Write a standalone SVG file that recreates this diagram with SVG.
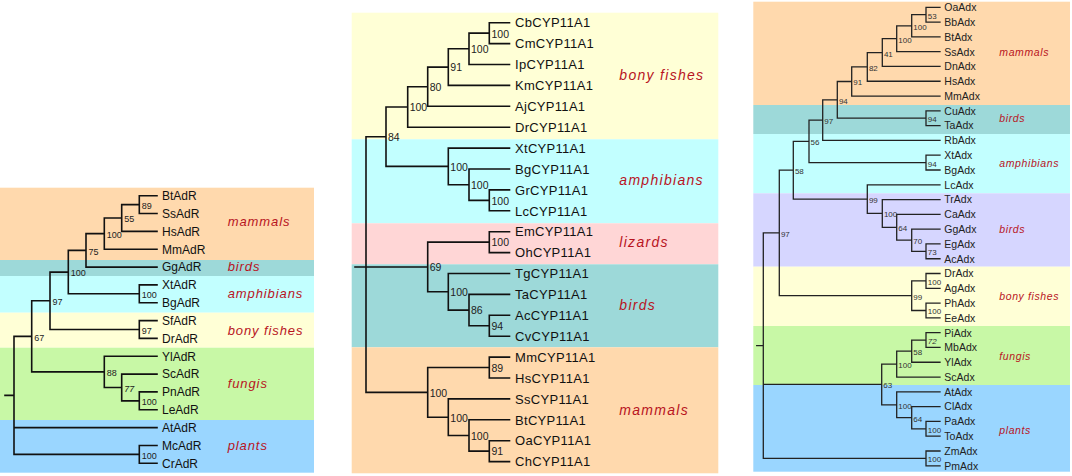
<svg xmlns="http://www.w3.org/2000/svg" width="1072" height="476" viewBox="0 0 1072 476">
<style>
.mam{fill:#FFD9AD}.brd{fill:#9DD9D9}.amp{fill:#C2FFFF}.liz{fill:#FFD6D6}.fsh{fill:#FFFFD6}.fun{fill:#C8F8A6}.pla{fill:#9AD6FF}.lav{fill:#D6D6FF}
.grp{font-family:"Liberation Sans",Arial,sans-serif;font-style:italic;fill:#B8141E}
.g1{font-size:13px;letter-spacing:0.9px}.g2{font-size:14px;letter-spacing:1.3px}.g3{font-size:10.5px;letter-spacing:0.6px}
.leaf{font-family:"Liberation Sans",Arial,sans-serif;fill:#111}
.l1{font-size:12px}.l2{font-size:13px;letter-spacing:0.3px}.l3{font-size:10.5px;fill:#222}
.bs{font-family:"Liberation Sans",Arial,sans-serif;fill:#222}
.b1{font-size:9px}.b2{font-size:10.5px}.b3{font-size:8px;fill:#333}
.ln{fill:none;stroke:#111;stroke-width:1.6;stroke-linecap:square}
.ln3{fill:none;stroke:#222;stroke-width:1.3;stroke-linecap:square}
</style>

<!-- LEFT PANEL: AdR -->
<g id="left-panel">
<g id="L-mammals"><rect class="mam" x="0" y="187.7" width="314" height="72.3"/><text class="grp g1" x="227.7" y="226.2">mammals</text></g>
<g id="L-birds"><rect class="brd" x="0" y="260" width="314" height="16"/><text class="grp g1" x="227.7" y="271">birds</text></g>
<g id="L-amphibians"><rect class="amp" x="0" y="276" width="314" height="36.7"/><text class="grp g1" x="227.7" y="297.6">amphibians</text></g>
<g id="L-fishes"><rect class="fsh" x="0" y="312.7" width="314" height="35"/><text class="grp g1" x="227.7" y="334.5">bony fishes</text></g>
<g id="L-fungis"><rect class="fun" x="0" y="347.7" width="314" height="72.3"/><text class="grp g1" x="227.7" y="387.8">fungis</text></g>
<g id="L-plants"><rect class="pla" x="0" y="420" width="314" height="52.7"/><text class="grp g1" x="227.7" y="450.2">plants</text></g>
<g id="L-leaves" class="leaf l1">
<text x="162" y="200">BtAdR</text><text x="162" y="217.8">SsAdR</text><text x="162" y="235.7">HsAdR</text><text x="162" y="253.5">MmAdR</text>
<text x="162" y="271.4">GgAdR</text><text x="162" y="289.2">XtAdR</text><text x="162" y="307">BgAdR</text><text x="162" y="324.9">SfAdR</text>
<text x="162" y="342.7">DrAdR</text><text x="162" y="360.6">YlAdR</text><text x="162" y="378.4">ScAdR</text><text x="162" y="396.2">PnAdR</text>
<text x="162" y="414.1">LeAdR</text><text x="162" y="431.9">AtAdR</text><text x="162" y="449.8">McAdR</text><text x="162" y="467.6">CrAdR</text>
</g>
<g id="L-connectors">
<path class="ln" d="M139.3,195.7H157M139.3,213.5H157M121.7,231.4H157M104.3,249.2H157M86,267.1H157M139.3,284.9H157M139.3,302.7H157M139.3,320.6H157M139.3,338.4H157M104.3,356.3H157M121.7,374.1H157M139.3,391.9H157M139.3,409.8H157M14,427.6H157M139.3,445.5H157M139.3,463.3H157
M139.3,195.7V213.5M121.7,204.6V231.4M104.3,218V249.2M86,233.6V267.1M139.3,284.9V302.7M68.3,250.4V293.8M139.3,320.6V338.4M50,272.1V329.5M139.3,391.9V409.8M121.7,374.1V400.9M104.3,356.3V387.5M31.7,300.8V371.9M139.3,445.5V463.3M14,336.4V454.4
M121.7,204.6H139.3M104.3,218H121.7M86,233.6H104.3M68.3,250.4H86M68.3,293.8H139.3M50,272.1H68.3M50,329.5H139.3M31.7,300.8H50M121.7,400.9H139.3M104.3,387.5H121.7M31.7,371.9H104.3M14,336.4H31.7M14,454.4H139.3M5,395.4H14"/>
</g>
<g id="L-support" class="bs b1">
<text x="141.8" y="208.8">89</text><text x="124.2" y="222.2">55</text><text x="106.8" y="237.8">100</text><text x="88.5" y="254.6">75</text>
<text x="141.8" y="298">100</text><text x="70.8" y="276.3">100</text><text x="141.8" y="333.7">97</text><text x="52.5" y="305">97</text>
<text x="141.8" y="405.1">100</text><text x="124.2" y="391.7" font-style="italic">77</text><text x="106.8" y="376.1">88</text><text x="34.2" y="340.6">67</text>
<text x="141.8" y="458.6">100</text>
</g>
</g>

<!-- MIDDLE PANEL: CYP11A1 -->
<g id="middle-panel">
<g id="M-fishes"><rect class="fsh" x="351.7" y="12.7" width="366.6" height="126.6"/><text class="grp g2" x="619.3" y="79.8">bony fishes</text></g>
<g id="M-amphibians"><rect class="amp" x="351.7" y="139.3" width="366.6" height="84"/><text class="grp g2" x="619.3" y="184.8">amphibians</text></g>
<g id="M-lizards"><rect class="liz" x="351.7" y="223.3" width="366.6" height="41"/><text class="grp g2" x="619.3" y="247.1">lizards</text></g>
<g id="M-birds"><rect class="brd" x="351.7" y="264.3" width="366.6" height="83"/><text class="grp g2" x="619.3" y="309.8">birds</text></g>
<g id="M-mammals"><rect class="mam" x="351.7" y="347.3" width="366.6" height="126"/><text class="grp g2" x="619.3" y="414.8">mammals</text></g>
<g id="M-leaves" class="leaf l2">
<text x="515" y="27.4">CbCYP11A1</text><text x="515" y="48.3">CmCYP11A1</text><text x="515" y="69.2">IpCYP11A1</text><text x="515" y="90.1">KmCYP11A1</text>
<text x="515" y="111">AjCYP11A1</text><text x="515" y="131.9">DrCYP11A1</text><text x="515" y="152.8">XtCYP11A1</text><text x="515" y="173.7">BgCYP11A1</text>
<text x="515" y="194.6">GrCYP11A1</text><text x="515" y="215.5">LcCYP11A1</text><text x="515" y="236.4">EmCYP11A1</text><text x="515" y="257.3">OhCYP11A1</text>
<text x="515" y="278.2">TgCYP11A1</text><text x="515" y="299.1">TaCYP11A1</text><text x="515" y="320">AcCYP11A1</text><text x="515" y="340.9">CvCYP11A1</text>
<text x="515" y="361.8">MmCYP11A1</text><text x="515" y="382.7">HsCYP11A1</text><text x="515" y="403.6">SsCYP11A1</text><text x="515" y="424.5">BtCYP11A1</text>
<text x="515" y="445.4">OaCYP11A1</text><text x="515" y="466.3">ChCYP11A1</text>
</g>
<g id="M-connectors">
<path class="ln" d="M489.3,22.7H509.5M489.3,43.6H509.5M469,64.5H509.5M448.3,85.4H509.5M427.7,106.3H509.5M407.7,127.2H509.5M448.3,148.1H509.5M469,169H509.5M489.3,189.9H509.5M489.3,210.8H509.5M489.3,231.7H509.5M489.3,252.6H509.5M448.3,273.5H509.5M469,294.4H509.5M489.3,315.3H509.5M489.3,336.2H509.5M489.3,357.1H509.5M489.3,378H509.5M448.3,398.9H509.5M469,419.8H509.5M489.3,440.7H509.5M489.3,461.6H509.5
M489.3,22.7V43.6M469,33.15V64.5M448.3,48.8V85.4M427.7,67.1V106.3M407.7,86.7V127.2M489.3,189.9V210.8M469,169V200.35M448.3,148.1V184.7M386,107V166.4M489.3,231.7V252.6M489.3,315.3V336.2M469,294.4V325.75M448.3,273.5V310.1M427.7,242.15V291.8M489.3,357.1V378M489.3,440.7V461.6M469,419.8V451.15M448.3,398.9V435.5M427.7,367.55V417.2M366,136.7V392.4
M469,33.15H489.3M448.3,48.8H469M427.7,67.1H448.3M407.7,86.7H427.7M386,107H407.7M469,200.35H489.3M448.3,184.7H469M386,166.4H448.3M366,136.7H386M469,325.75H489.3M448.3,310.1H469M427.7,291.8H448.3M427.7,242.15H489.3M366,267H427.7M427.7,367.55H489.3M469,451.15H489.3M448.3,435.5H469M427.7,417.2H448.3M366,392.4H427.7M355,267H366"/>
</g>
<g id="M-support" class="bs b2">
<text x="491.5" y="37.5">100</text><text x="471" y="53.1">100</text><text x="450.3" y="71.4">91</text><text x="429.7" y="91">80</text>
<text x="409.7" y="111.3">100</text><text x="491.5" y="204.6">100</text><text x="471" y="189">100</text><text x="450.3" y="170.7">100</text>
<text x="388" y="141">84</text><text x="491.5" y="246.4">100</text><text x="491.5" y="330">94</text><text x="471" y="314.4">86</text>
<text x="450.3" y="296.1">100</text><text x="429.7" y="271.3">69</text><text x="491.5" y="371.8">89</text><text x="491.5" y="455.4">91</text>
<text x="471" y="439.8">100</text><text x="450.3" y="421.5">100</text><text x="429.7" y="396.7">100</text>
</g>
</g>

<!-- RIGHT PANEL: Adx -->
<g id="right-panel">
<g id="R-mammals"><rect class="mam" x="753.3" y="1.7" width="316.7" height="103.3"/><text class="grp g3" x="999.3" y="56.1">mammals</text></g>
<g id="R-birds1"><rect class="brd" x="753.3" y="105" width="316.7" height="29"/><text class="grp g3" x="999.3" y="122.1">birds</text></g>
<g id="R-amphibians"><rect class="amp" x="753.3" y="134" width="316.7" height="59.3"/><text class="grp g3" x="999.3" y="167.1">amphibians</text></g>
<g id="R-birds2"><rect class="lav" x="753.3" y="193.3" width="316.7" height="73.4"/><text class="grp g3" x="999.3" y="233.1">birds</text></g>
<g id="R-fishes"><rect class="fsh" x="753.3" y="266.7" width="316.7" height="59.3"/><text class="grp g3" x="999.3" y="299.8">bony fishes</text></g>
<g id="R-fungis"><rect class="fun" x="753.3" y="326" width="316.7" height="59"/><text class="grp g3" x="999.3" y="359.5">fungis</text></g>
<g id="R-plants"><rect class="pla" x="753.3" y="385" width="316.7" height="86.7"/><text class="grp g3" x="999.3" y="433.8">plants</text></g>
<g id="R-leaves" class="leaf l3">
<text x="944.3" y="11.1">OaAdx</text><text x="944.3" y="25.9">BbAdx</text><text x="944.3" y="40.7">BtAdx</text><text x="944.3" y="55.5">SsAdx</text>
<text x="944.3" y="70.3">DnAdx</text><text x="944.3" y="85">HsAdx</text><text x="944.3" y="99.8">MmAdx</text><text x="944.3" y="114.6">CuAdx</text>
<text x="944.3" y="129.4">TaAdx</text><text x="944.3" y="144.2">RbAdx</text><text x="944.3" y="159">XtAdx</text><text x="944.3" y="173.8">BgAdx</text>
<text x="944.3" y="188.6">LcAdx</text><text x="944.3" y="203.4">TrAdx</text><text x="944.3" y="218.2">CaAdx</text><text x="944.3" y="232.9">GgAdx</text>
<text x="944.3" y="247.7">EgAdx</text><text x="944.3" y="262.5">AcAdx</text><text x="944.3" y="277.3">DrAdx</text><text x="944.3" y="292.1">AgAdx</text>
<text x="944.3" y="306.9">PhAdx</text><text x="944.3" y="321.7">EeAdx</text><text x="944.3" y="336.5">PiAdx</text><text x="944.3" y="351.3">MbAdx</text>
<text x="944.3" y="366.1">YlAdx</text><text x="944.3" y="380.9">ScAdx</text><text x="944.3" y="395.6">AtAdx</text><text x="944.3" y="410.4">ClAdx</text>
<text x="944.3" y="425.2">PaAdx</text><text x="944.3" y="440">ToAdx</text><text x="944.3" y="454.8">ZmAdx</text><text x="944.3" y="469.6">PmAdx</text>
</g>
<g id="R-connectors">
<path class="ln3" d="M926,7.3H940M926,22.09H940M911.7,36.88H940M896.7,51.67H940M882.3,66.46H940M867.3,81.25H940M851.7,96.04H940M926,110.83H940M926,125.62H940M822.7,140.41H940M926,155.2H940M926,169.99H940M867.3,184.78H940M882.3,199.57H940M896.7,214.36H940M911.7,229.15H940M926,243.94H940M926,258.73H940M926,273.52H940M926,288.31H940M926,303.1H940M926,317.89H940M926,332.68H940M926,347.47H940M911.7,362.26H940M896.7,377.05H940M896.7,391.84H940M911.7,406.63H940M926,421.42H940M926,436.21H940M926,451H940M926,465.79H940
M926,7.3V22.09M911.7,14.7V36.88M896.7,25.8V51.67M882.3,38.7V66.46M867.3,52.6V81.25M851.7,66.9V96.04M926,110.83V125.62M837.3,81.5V118.2M822.7,99.85V140.41M926,155.2V169.99M809,120.1V162.6M926,243.94V258.73M911.7,229.15V251.3M896.7,214.36V240.2M882.3,199.57V227.3M867.3,184.78V213.4M793.3,141.35V199.1M926,273.52V288.31M926,303.1V317.89M911.7,280.9V310.5M779.3,170.2V295.7M926,332.68V347.47M911.7,340.1V362.26M896.7,351.2V377.05M926,421.42V436.21M911.7,406.63V428.8M896.7,391.84V417.7M881.7,364.1V404.8M926,451V465.79M763.3,232.95V458.4
M911.7,14.7H926M896.7,25.8H911.7M882.3,38.7H896.7M867.3,52.6H882.3M851.7,66.9H867.3M837.3,81.5H851.7M837.3,118.2H926M822.7,99.85H837.3M809,120.1H822.7M809,162.6H926M793.3,141.35H809M911.7,251.3H926M896.7,240.2H911.7M882.3,227.3H896.7M867.3,213.4H882.3M793.3,199.1H867.3M779.3,170.2H793.3M911.7,280.9H926M911.7,310.5H926M779.3,295.7H911.7M763.3,232.95H779.3M911.7,340.1H926M896.7,351.2H911.7M881.7,364.1H896.7M911.7,428.8H926M896.7,417.7H911.7M881.7,404.8H896.7M763.3,384.45H881.7M763.3,458.4H926M756.7,345.7H763.3"/>
</g>
<g id="R-support" class="bs b3">
<text x="927.8" y="18.6">53</text><text x="913.3" y="29.7">100</text><text x="898.3" y="42.6">100</text><text x="883.9" y="56.5">41</text>
<text x="868.9" y="70.8">82</text><text x="853.3" y="85.4">91</text><text x="927.8" y="122.1">94</text><text x="838.9" y="103.8">94</text>
<text x="824.3" y="124">97</text><text x="927.8" y="166.5">94</text><text x="810.6" y="145.3">56</text><text x="927.8" y="255.2">73</text>
<text x="913.3" y="244.1">70</text><text x="898.3" y="231.2">64</text><text x="883.9" y="217.3">100</text><text x="868.9" y="203">99</text>
<text x="794.9" y="174.1">58</text><text x="927.8" y="284.8">100</text><text x="927.8" y="314.4">100</text><text x="913.3" y="299.6">99</text>
<text x="780.9" y="236.9">97</text><text x="927.8" y="344" font-style="italic">72</text><text x="913.3" y="355.1">58</text><text x="898.3" y="368">100</text>
<text x="927.8" y="432.7">100</text><text x="913.3" y="421.6">64</text><text x="898.3" y="408.7">100</text><text x="883.3" y="388.4">63</text>
<text x="927.8" y="462.3">100</text>
</g>
</g>
</svg>
